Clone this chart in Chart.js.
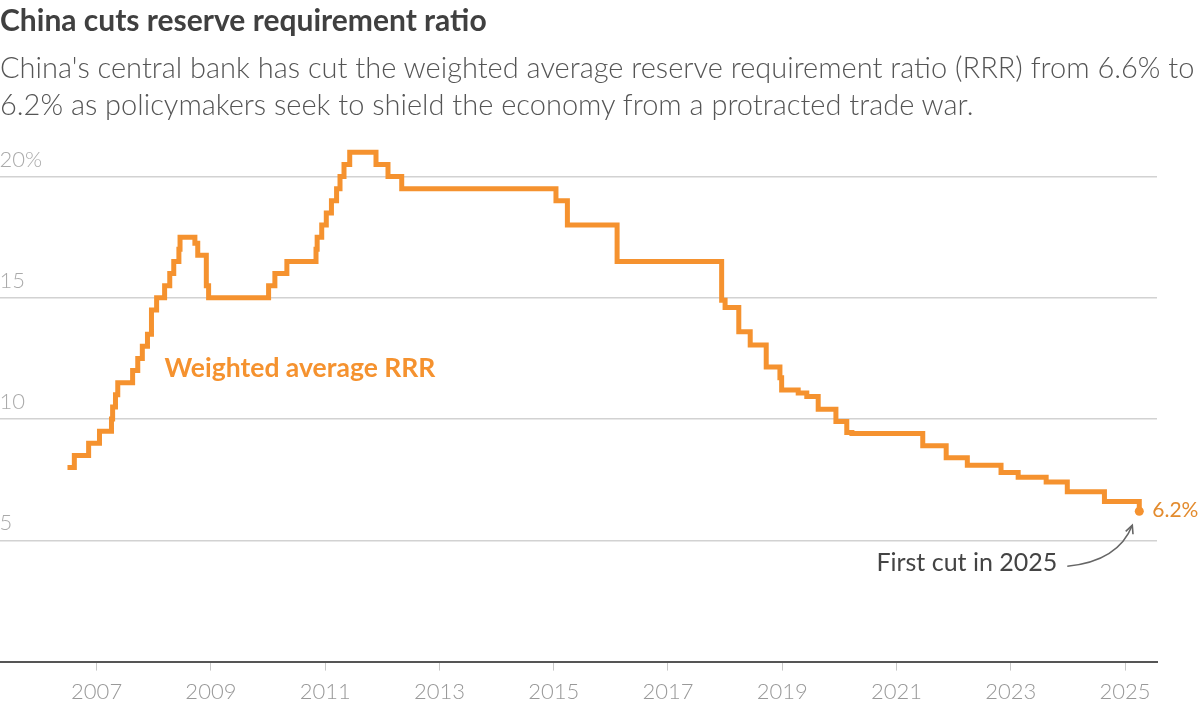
<!DOCTYPE html>
<html>
<head>
<meta charset="utf-8">
<script src="https://cdn.jsdelivr.net/npm/chart.js@4.4.1/dist/chart.umd.min.js"></script>
<style>
  html, body { margin: 0; padding: 0; background: #fff; width: 1200px; height: 709px; overflow: hidden; position: relative; }
  #wrap { position: absolute; left: -5px; top: 0; width: 1205px; height: 713px; }
  #title { position: absolute; left: 0; top: 1px; font: 700 30px Lato, sans-serif; color: #404040; white-space: nowrap; }
  #sub { position: absolute; left: 0; top: 48px; font: 300 29px Lato, sans-serif; color: #555; line-height: 37px; white-space: nowrap; }
</style>
</head>
<body>
<div id="wrap"><canvas id="c" width="1205" height="713"></canvas></div>
<div id="title">China cuts reserve requirement ratio</div>
<div id="sub">China's central bank has cut the weighted average reserve requirement ratio (RRR) from 6.6% to<br>6.2% as policymakers seek to shield the economy from a protracted trade war.</div>
<script>
// Dates (decimal years) at which the weighted average RRR changed, and the new level (%)
const stepYears = [
  2006.49, 2006.61, 2006.86, 2007.05, 2007.26, 2007.28, 2007.33, 2007.37, 2007.63, 2007.72,
  2007.80, 2007.89, 2007.96, 2008.05, 2008.19, 2008.28, 2008.35, 2008.44, 2008.46, 2008.72,
  2008.77, 2008.92, 2008.96, 2010.01, 2010.12, 2010.33, 2010.84, 2010.86, 2010.94, 2011.02,
  2011.11, 2011.20, 2011.26, 2011.33, 2011.43, 2011.89, 2012.10, 2012.34, 2015.04, 2015.24,
  2016.11, 2017.94, 2018.00, 2018.24, 2018.44, 2018.72, 2018.96, 2018.99, 2019.28, 2019.43,
  2019.63, 2019.94, 2020.13, 2020.22, 2021.46, 2021.87, 2022.24, 2022.83, 2023.13, 2023.62,
  2023.99, 2024.64, 2025.25
];
const rrrValues = [
  8.0, 8.5, 9.0, 9.5, 10.0, 10.5, 11.0, 11.5, 12.0, 12.5,
  13.0, 13.5, 14.5, 15.0, 15.5, 16.0, 16.5, 17.0, 17.5, 17.25,
  16.75, 15.5, 15.0, 15.5, 16.0, 16.5, 17.0, 17.5, 18.0, 18.5,
  19.0, 19.5, 20.0, 20.5, 21.0, 20.5, 20.0, 19.5, 19.0, 18.0,
  16.5, 14.9, 14.6, 13.6, 13.05, 12.15, 11.7, 11.2, 11.07, 10.93,
  10.4, 9.9, 9.45, 9.4, 8.9, 8.4, 8.1, 7.8, 7.6, 7.4,
  7.0, 6.6, 6.2
];
const xTickYears = [2007, 2009, 2011, 2013, 2015, 2017, 2019, 2021, 2023, 2025];
const yTickValues = [5, 10, 15, 20];
const seriesLabel = 'Weighted average RRR';
const endLabel = '6.2%';
const noteLabel = 'First cut in 2025';

const ORANGE = '#F5922F';
const lastIdx = stepYears.length - 1;

const annotations = {
  id: 'annotations',
  afterDatasetsDraw(chart) {
    const { ctx, scales: { x, y } } = chart;
    ctx.save();
    // series label
    ctx.font = '700 26.5px Lato, sans-serif';
    ctx.fillStyle = ORANGE;
    ctx.textAlign = 'left';
    ctx.textBaseline = 'middle';
    ctx.fillText(seriesLabel, x.getPixelForValue(2008.19), y.getPixelForValue(12.1));

    const px = x.getPixelForValue(stepYears[lastIdx]);
    const py = y.getPixelForValue(rrrValues[lastIdx]);
    // end value label
    ctx.font = '400 21px Lato, sans-serif';
    ctx.fillStyle = '#E38B2E';
    ctx.fillText(endLabel, px + 13, py - 1);

    // note
    ctx.font = '400 25px Lato, sans-serif';
    ctx.fillStyle = '#444';
    ctx.textAlign = 'right';
    ctx.fillText(noteLabel, px - 82, py + 52);

    // curved arrow
    const sx = px - 72, sy = py + 55;
    const cx = px - 21, cy = py + 50;
    const tx = px - 7, ty = py + 14;
    ctx.strokeStyle = '#666';
    ctx.lineWidth = 1.6;
    ctx.beginPath();
    ctx.moveTo(sx, sy);
    ctx.quadraticCurveTo(cx, cy, tx, ty);
    ctx.stroke();
    const ang = Math.atan2(ty - cy, tx - cx);
    const L = 9;
    ctx.beginPath();
    ctx.moveTo(tx - L * Math.cos(ang - 0.45), ty - L * Math.sin(ang - 0.45));
    ctx.lineTo(tx, ty);
    ctx.lineTo(tx - L * Math.cos(ang + 0.45), ty - L * Math.sin(ang + 0.45));
    ctx.stroke();
    ctx.restore();
  }
};

new Chart(document.getElementById('c'), {
  type: 'line',
  data: {
    datasets: [{
      data: stepYears.map((t, i) => ({ x: t, y: rrrValues[i] })),
      stepped: 'before',
      borderColor: ORANGE,
      backgroundColor: ORANGE,
      borderWidth: 5,
      borderJoinStyle: 'miter',
      borderCapStyle: 'butt',
      pointRadius: ctx => ctx.dataIndex === lastIdx ? 4.5 : 0,
      pointBorderWidth: 0,
      pointBackgroundColor: ORANGE,
      fill: false,
      clip: false
    }]
  },
  options: {
    responsive: false,
    animation: false,
    layout: { padding: { left: 0, right: 43, top: 128, bottom: 0 } },
    plugins: { legend: { display: false }, tooltip: { enabled: false } },
    scales: {
      x: {
        type: 'linear',
        min: 2005.30,
        max: 2025.56,
        afterBuildTicks: s => { s.ticks = xTickYears.map(v => ({ value: v })); },
        grid: { drawOnChartArea: false, drawTicks: true, tickLength: 9, color: '#c8c8c8', lineWidth: 1 },
        border: { display: true, color: '#555', width: 2 },
        ticks: {
          callback: v => String(v),
          color: '#999',
          font: { family: 'Lato', size: 22, weight: 300 },
          padding: 8,
          maxRotation: 0,
          autoSkip: false
        }
      },
      y: {
        type: 'linear',
        min: 0,
        max: 22,
        afterBuildTicks: s => { s.ticks = yTickValues.map(v => ({ value: v })); },
        grid: { color: '#d2d2d2', lineWidth: 1.5, drawTicks: false },
        border: { display: false },
        ticks: {
          mirror: true,
          padding: 0,
          labelOffset: -17,
          callback: v => v === 20 ? '20%' : String(v),
          color: '#aaa',
          font: { family: 'Lato', size: 22, weight: 300 }
        }
      }
    }
  },
  plugins: [annotations]
});
</script>
</body>
</html>
